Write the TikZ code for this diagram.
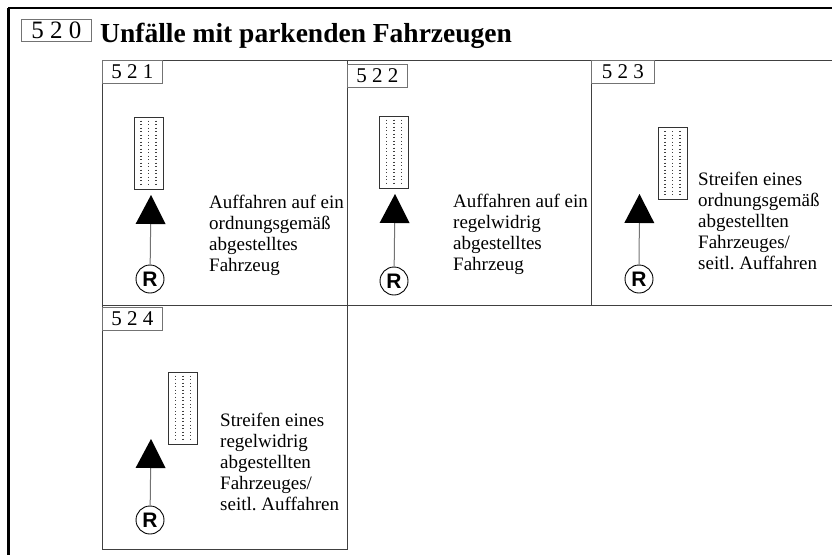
\documentclass[tikz,border=0pt]{standalone}
\usepackage{fontspec}
\setmainfont{Liberation Serif}
\newfontfamily\ringfont{Liberation Sans}
\usepackage{tikz}
\usetikzlibrary{arrows.meta,positioning}
\frenchspacing

\begin{document}
\begin{tikzpicture}[x=1pt, y=-1pt,
  panel/.style={rectangle, draw=black!75, line width=1pt, minimum width=245, minimum height=245, anchor=north west, inner sep=0},
  lbl/.style={rectangle, draw=black!55, fill=white, line width=0.8pt, minimum width=60, minimum height=23, inner sep=0, font=\fontsize{21}{21}\selectfont},
  car/.style={rectangle, draw=black!80, line width=0.8pt, minimum width=29, minimum height=72, inner sep=0},
  dots/.style={draw=black!75, line width=1.1pt, dash pattern=on 1.1pt off 2.4pt},
  ring/.style={circle, draw, line width=0.9pt, minimum size=28, inner sep=0, font=\ringfont\bfseries\fontsize{21}{21}\selectfont},
  arr/.style={draw=black!55, line width=1pt, -{Triangle[length=29pt, width=30pt, color=black, fill=black, line width=0pt]}},
  txt/.style={anchor=north west, align=left, inner sep=0, font=\fontsize{19}{21}\selectfont}
]
\useasboundingbox (0,0) rectangle (832,554);
% outer frame
\draw[line width=1.5pt] (8,8) -- (840,8);
\draw[line width=3pt] (8,8) -- (8,560);
\node[lbl, anchor=north west, minimum width=70, minimum height=22, font=\fontsize{25}{25}\selectfont] (l0) at (21,19) {5 2 0};
\node[anchor=base west, inner sep=0, font=\bfseries\fontsize{27.5}{27.5}\selectfont] (title) at (100,42) {Unfälle mit parkenden Fahrzeugen};
% panels
\node[panel] (p1) at (102,60) {};
\node[panel, minimum width=244] (p2) at (347,60) {};
\node[panel, minimum width=250] (p3) at (591,60) {};
\node[panel, minimum height=244] (p4) at (102,305) {};
\node[lbl, below right=0pt and 0pt of p1.north west] (l1) {5 2 1};
\node[lbl, below right=4pt and 0pt of p2.north west] (l2) {5 2 2};
\node[lbl, below right=0pt and 0pt of p3.north west, minimum width=63] (l3) {5 2 3};
\node[lbl, below right=2pt and 0pt of p4.north west] (l4) {5 2 4};
% parked cars
\node[car] (car1) at (148.5,153) {};
\node[car] (car2) at (394,152) {};
\node[car] (car3) at (672.5,163.5) {};
\node[car] (car4) at (183,408) {};
\foreach \c in {car1,car2,car3,car4}
  \foreach \dx in {-7.5,0,7.5}
    \draw[dots] ([xshift=\dx, yshift=-4]\c.north) -- ([xshift=\dx, yshift=4]\c.south);
% road users
\node[ring] (r1) at (150,279) {R};
\node[ring] (r2) at (394,281) {R};
\node[ring] (r3) at (639,279) {R};
\node[ring] (r4) at (150,520) {R};
\coordinate (t1) at (151,195);
\coordinate (t2) at (395,194);
\coordinate (t3) at (639.5,194);
\coordinate (t4) at (151,439);
\draw[arr] (r1) -- (t1);
\draw[arr] (r2) -- (t2);
\draw[arr] (r3) -- (t3);
\draw[arr] (r4) -- (t4);
% descriptions
\node[txt] (d1) at (209,195) {Auffahren auf ein\\ordnungsgemäß\\abgestelltes\\Fahrzeug};
\node[txt] (d2) at (453,194) {Auffahren auf ein\\regelwidrig\\abgestelltes\\Fahrzeug};
\node[txt] (d3) at (698,172) {Streifen eines\\ordnungsgemäß\\abgestellten\\Fahrzeuges/\\seitl. Auffahren};
\node[txt] (d4) at (220,413) {Streifen eines\\regelwidrig\\abgestellten\\Fahrzeuges/\\seitl. Auffahren};
\end{tikzpicture}
\end{document}
